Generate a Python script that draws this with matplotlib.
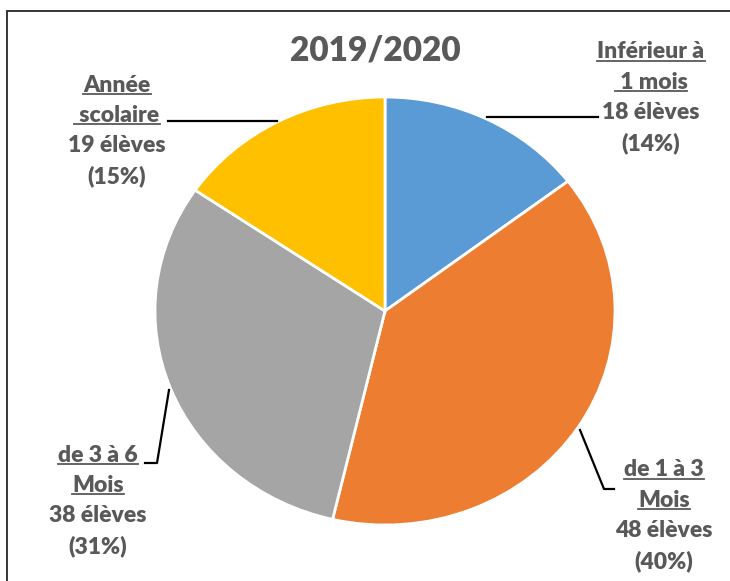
import matplotlib
matplotlib.use("Agg")
import matplotlib.pyplot as plt
from matplotlib.lines import Line2D
from matplotlib.patches import Rectangle

# data
categories = ["Inférieur à 1 mois", "de 1 à 3 Mois", "de 3 à 6 Mois", "Année scolaire"]
students = [18, 48, 38, 19]
percent_labels = ["14%", "40%", "31%", "15%"]
colors = ["#5B9BD5", "#ED7D31", "#A5A5A5", "#FFC000"]

W, H = 730, 581
TEXT = "#595959"
plt.rcParams["font.family"] = ["Lato", "DejaVu Sans"]

fig = plt.figure(figsize=(W / 100, H / 100), dpi=100)


def fx(px):
    return px / W


def fy(py):
    return 1 - py / H


# outer frame (cropped on right and bottom like the screenshot)
fig.add_artist(Rectangle((fx(7), fy(H + 20)), 1, fy(11) - fy(H + 20),
                         transform=fig.transFigure, fill=False,
                         edgecolor="#262626", linewidth=1.3))

# pie, slightly stretched horizontally
cx, cy, rx, ry = 385, 311, 230, 214
ax = fig.add_axes([fx(cx - rx), fy(cy + ry), 2 * rx / W, 2 * ry / H])
ax.pie(students, colors=colors, startangle=90, counterclock=False,
       wedgeprops=dict(edgecolor="white", linewidth=2))
ax.set_aspect("auto")
ax.set_xlim(-1, 1)
ax.set_ylim(-1, 1)
ax.axis("off")

fig.text(fx(375), fy(50), "2019/2020", ha="center", va="center",
         fontsize=24, fontweight="heavy", color=TEXT)

# label blocks: (center x, first line y, name lines)
layout = {
    0: (651, 52, ["Inférieur à", " 1 mois"]),
    1: (664, 470, ["de 1 à 3", "Mois"]),
    2: (98, 455, ["de 3 à 6", "Mois"]),
    3: (117, 85, ["Année", " scolaire"]),
}
step = 30.3
underlined = []
for i, (x, y0, names) in layout.items():
    lines = names + [f"{students[i]} élèves", f"({percent_labels[i]})"]
    for k, s in enumerate(lines):
        t = fig.text(fx(x), fy(y0 + k * step), s, ha="center", va="center",
                     fontsize=16.5, fontweight="heavy", color=TEXT)
        if k < len(names):
            underlined.append(t)

fig.canvas.draw()
renderer = fig.canvas.get_renderer()
for t in underlined:
    bb = t.get_window_extent(renderer)
    yb = bb.y0 + 1.5
    fig.add_artist(Line2D([bb.x0 / W, bb.x1 / W], [yb / H, yb / H],
                          transform=fig.transFigure, color=TEXT, linewidth=1.3))

# leader lines
leaders = [
    [(487, 117), (598, 117)],
    [(580, 430), (604, 489), (614, 489)],
    [(169, 390), (157, 463), (145, 463)],
    [(168, 121), (277, 121)],
]
for pts in leaders:
    fig.add_artist(Line2D([fx(p[0]) for p in pts], [fy(p[1]) for p in pts],
                          transform=fig.transFigure, color="black", linewidth=1.6))

fig.savefig("out.png", dpi=100)
